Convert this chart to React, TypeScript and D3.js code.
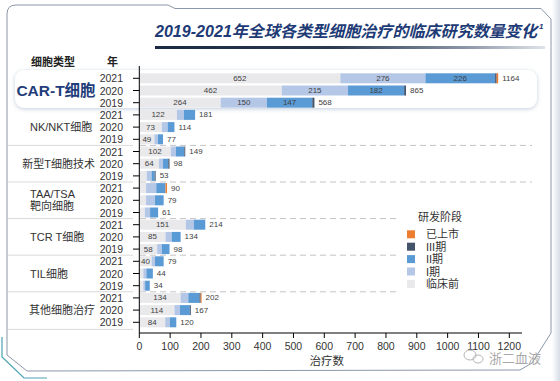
import React from "react";
import * as d3 from "d3";

const categoryLabels: string[][] = [
  ["CAR-T细胞"],
  ["NK/NKT细胞"],
  ["新型T细胞技术"],
  ["TAA/TSA", "靶向细胞"],
  ["TCR T细胞"],
  ["TIL细胞"],
  ["其他细胞治疗"],
];
const years = ["2021", "2020", "2019"];
const stageNames = ["临床前", "I期", "II期", "III期", "已上市"];
const stageKeys = ["pre", "p1", "p2", "p3", "mkt"];
const stageColors = ["#e9e9eb", "#b4c7e7", "#5b9bd5", "#44546a", "#ed7d31"];

// rows: per category 2021, 2020, 2019
const preclinical = [652, 462, 264, 122, 73, 49, 102, 64, 24, 22, 22, 18, 151, 85, 58, 40, 13, 13, 134, 114, 84];
const phase1 = [276, 215, 150, 23, 19, 11, 17, 13, 16, 33, 29, 17, 26, 20, 15, 11, 10, 6, 25, 18, 15];
const phase2 = [226, 182, 147, 36, 22, 17, 27, 17, 10, 30, 28, 26, 37, 29, 25, 28, 21, 15, 36, 32, 21];
const phase3 = [5, 6, 7, 0, 0, 0, 3, 4, 3, 0, 0, 0, 0, 0, 0, 0, 0, 0, 4, 3, 0];
const marketed = [5, 0, 0, 0, 0, 0, 0, 0, 0, 5, 0, 0, 0, 0, 0, 0, 0, 0, 3, 0, 0];
const xTicks = [0, 100, 200, 300, 400, 500, 600, 700, 800, 900, 1000, 1100, 1200];

const FONT = "'Liberation Sans', 'Noto Sans CJK SC', sans-serif";

export default function App() {
  const W = 560, H = 381;
  const rows = preclinical.map((_, i) => ({
    idx: i,
    pre: preclinical[i],
    p1: phase1[i],
    p2: phase2[i],
    p3: phase3[i],
    mkt: marketed[i],
  }));
  const totals = rows.map((r) => r.pre + r.p1 + r.p2 + r.p3 + r.mkt);
  const x = d3.scaleLinear().domain([0, 1200]).range([139.3, 509.3]);
  const y = d3
    .scaleBand<number>()
    .domain(rows.map((r) => r.idx))
    .range([72.2, 328.4])
    .paddingInner(0.18)
    .paddingOuter(0.09);
  const stack = d3.stack<any>().keys(stageKeys);
  const series = stack(rows);
  const bw = y.bandwidth();
  const step = y.step();

  const groupBoundaries = d3.range(1, categoryLabels.length + 1).map((g) => (y(g * 3 - 1) as number) + bw + (step - bw) / 2);

  const labelColor = "#404040";

  return (
    <svg width={W} height={H} style={{ position: "absolute", left: 0, top: 0, background: "#fff" }} fontFamily={FONT}>
      <defs>
        <linearGradient id="ul" x1="0" x2="1" y1="0" y2="0">
          <stop offset="0" stopColor="#1b2a44" />
          <stop offset="0.45" stopColor="#2a3850" />
          <stop offset="0.8" stopColor="#8c97a8" />
          <stop offset="1" stopColor="#dfe4ea" />
        </linearGradient>
        <linearGradient id="rb" x1="0" x2="1" y1="0" y2="0">
          <stop offset="0" stopColor="#ffffff" />
          <stop offset="1" stopColor="#d6dde7" />
        </linearGradient>
        <filter id="sh" x="-5%" y="-40%" width="110%" height="180%">
          <feDropShadow dx="0" dy="1" stdDeviation="2.2" floodColor="#9aabc5" floodOpacity="0.6" />
        </filter>
      </defs>

      {/* decorative frame */}
      <rect x={552} y={0} width={8} height={H} fill="url(#rb)" />
      <path d="M7,355 L7,14 Q7,5 16,5 L168,5 L175,8.5 L541,8.5 L551,19 L551,333 L532,363 L520,370 L27,371 L7,355"
        fill="none" stroke="#8a97a8" strokeWidth={1} />
      <path d="M2,337 L2,357 L24,378 L47,378" fill="none" stroke="#4aa3b5" strokeWidth={1.2} />

      {/* title */}
      <text x={155} y={31} dominantBaseline="central" fontSize={16} fontWeight="bold" fontStyle="italic" fill="#1e3b76"
        textLength={382} lengthAdjust="spacingAndGlyphs">
        2019-2021年全球各类型细胞治疗的临床研究数量变化
      </text>
      <text x={539} y={26} dominantBaseline="central" fontSize={8} fontWeight="bold" fontStyle="italic" fill="#1e3b76">1</text>
      <rect x={155} y={46} width={390} height={3} fill="url(#ul)" />

      {/* headers */}
      <text x={53} y={61.5} textAnchor="middle" dominantBaseline="central" fontSize={11} fontWeight="bold" fill="#222">细胞类型</text>
      <text x={112.5} y={61.5} textAnchor="middle" dominantBaseline="central" fontSize={11} fontWeight="bold" fill="#222">年</text>

      {/* CAR-T highlight box */}
      <rect x={15} y={70} width={522} height={38} rx={9} fill="#ffffff" filter="url(#sh)" />

      {/* separators */}
      {groupBoundaries.slice(0, -1).map((gy, i) =>
        i === 0 ? null : (
          <g key={"sep" + i}>
            <line x1={8} x2={133} y1={gy} y2={gy} stroke="#d9d9d9" strokeWidth={1} />
            <line x1={140} x2={532} y1={gy} y2={gy} stroke="#c4c4c4" strokeWidth={1} strokeDasharray="6,4" />
          </g>
        )
      )}
      <line x1={8} x2={133} y1={groupBoundaries[groupBoundaries.length - 1] + 1} y2={groupBoundaries[groupBoundaries.length - 1] + 1} stroke="#d9d9d9" strokeWidth={1} />

      {/* legend background */}
      <rect x={398} y={200} width={150} height={100} fill="#fff" />

      {/* bars */}
      {series.map((s, si) => (
        <g key={s.key} fill={stageColors[si]}>
          {s.map((d, i) => {
            const w = x(d[1]) - x(d[0]);
            if (w <= 0) return null;
            return <rect key={i} x={x(d[0])} y={y(i)} width={w} height={bw} />;
          })}
        </g>
      ))}
      {/* segment labels */}
      {series.map((s) =>
        s.map((d, i) => {
          const v = d[1] - d[0];
          if (v < 40) return null;
          return (
            <text key={s.key + "l" + i} x={(x(d[0]) + x(d[1])) / 2} y={(y(i) as number) + bw / 2} textAnchor="middle"
              dominantBaseline="central" fontSize={8} fill={labelColor}>
              {v}
            </text>
          );
        })
      )}
      {/* totals */}
      {totals.map((t, i) => (
        <text key={"t" + i} x={x(t) + 4} y={(y(i) as number) + bw / 2} dominantBaseline="central" fontSize={8} fill={labelColor}>
          {t}
        </text>
      ))}

      {/* y axis */}
      <line x1={139.3} x2={139.3} y1={66} y2={333} stroke="#000" strokeWidth={1} />
      {rows.map((r, i) => {
        const cy = (y(i) as number) + bw / 2;
        return (
          <g key={"yt" + i}>
            <line x1={133} x2={139.3} y1={cy} y2={cy} stroke="#000" strokeWidth={1} />
            <text x={123} y={cy} textAnchor="end" dominantBaseline="central" fontSize={10.5} fill="#333">
              {years[i % 3]}
            </text>
          </g>
        );
      })}

      {/* category labels */}
      {categoryLabels.map((lines, g) => {
        const cy = (y(g * 3 + 1) as number) + bw / 2;
        if (g === 0) {
          return (
            <text key={"c" + g} x={56} y={cy} textAnchor="middle" dominantBaseline="central" fontSize={15.5}
              fontWeight="bold" fill="#1f3d7a">
              {lines[0]}
            </text>
          );
        }
        if (lines.length > 1) {
          return (
            <g key={"c" + g}>
              {lines.map((ln, li) => (
                <text key={li} x={30} y={cy - 6 + li * 12} dominantBaseline="central" fontSize={11} fill="#333">
                  {ln}
                </text>
              ))}
            </g>
          );
        }
        return (
          <text key={"c" + g} x={95} y={cy} textAnchor="end" dominantBaseline="central" fontSize={11} fill="#333"
            ref={(el) => {
              if (el) {
                const w = el.getComputedTextLength();
                const start = Math.min(30, 95 - w);
                el.setAttribute("x", String(start));
                el.setAttribute("text-anchor", "start");
              }
            }}>
            {lines[0]}
          </text>
        );
      })}

      {/* x axis */}
      <line x1={139.3} x2={522} y1={333} y2={333} stroke="#000" strokeWidth={1} />
      {xTicks.map((t) => (
        <g key={"xt" + t}>
          <line x1={x(t)} x2={x(t)} y1={333} y2={338} stroke="#000" strokeWidth={1} />
          <text x={x(t)} y={345.5} textAnchor="middle" dominantBaseline="central" fontSize={10.5} fill="#333">
            {t}
          </text>
        </g>
      ))}
      <text x={326.7} y={360.5} textAnchor="middle" dominantBaseline="central" fontSize={11.5} fill="#333">治疗数</text>

      {/* legend */}
      <text x={418} y={216.7} dominantBaseline="central" fontSize={11} fill="#333">研发阶段</text>
      {stageNames
        .map((n, i) => ({ n, c: stageColors[i] }))
        .reverse()
        .map((it, i) => {
          const cy = 234.3 + i * 12.4;
          return (
            <g key={"lg" + i}>
              <rect x={407} y={cy - 4} width={8} height={8} fill={it.c} />
              <text x={426} y={cy} dominantBaseline="central" fontSize={11} fill="#333">{it.n}</text>
            </g>
          );
        })}

      {/* watermark */}
      <g stroke="#b5b5b5" fill="none" strokeWidth={1}>
        <ellipse cx={470} cy={355} rx={6} ry={5} />
        <ellipse cx={478} cy={359} rx={5} ry={4} />
      </g>
      <text x={489} y={358} dominantBaseline="central" fontSize={13} fill="#a8a8a8">浙二血液</text>
    </svg>
  );
}
